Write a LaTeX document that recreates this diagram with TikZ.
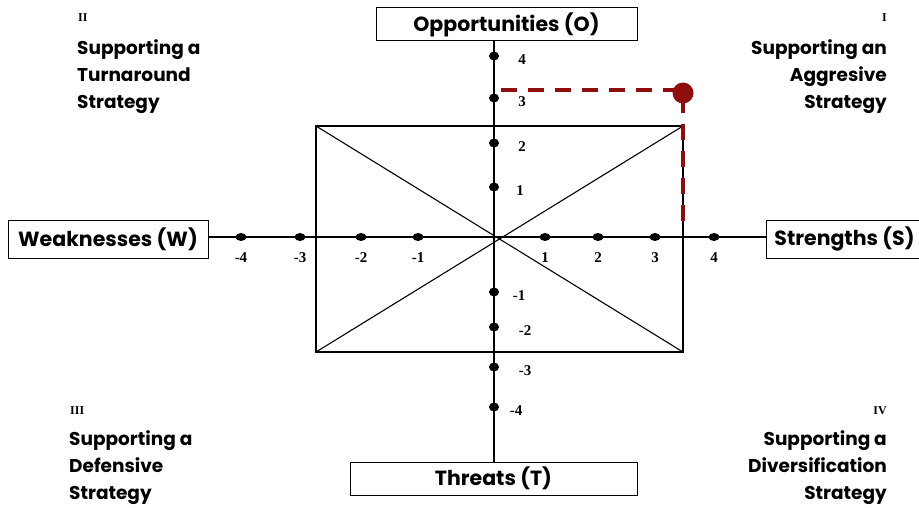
\documentclass[tikz,border=0pt]{standalone}
\usetikzlibrary{shapes.geometric}
\usepackage{fontspec}
\setmainfont{Poppins}
\newfontfamily\tickfont{Liberation Serif}
\definecolor{darkred}{HTML}{8E0D0D}
\begin{document}
\begin{tikzpicture}[x=1pt,y=-1pt,
  axisbox/.style={draw,line width=1pt,inner sep=0pt,font=\fontsize{20.5}{22}\selectfont\bfseries},
  quad/.style={font=\fontsize{18.5}{27}\selectfont\bfseries,inner sep=0pt},
  roman/.style={font=\tickfont\fontsize{12}{12}\selectfont\bfseries,inner sep=0pt},
  tick/.style={font=\tickfont\fontsize{15}{15}\selectfont\bfseries,inner sep=0pt},
  dot/.style={fill,ellipse,minimum width=11pt,minimum height=8pt,inner sep=0pt},
  axis/.style={line width=1.3pt},
  thin/.style={line width=1.1pt}]
\useasboundingbox (0,0) rectangle (919,508);
\fill[white] (0,0) rectangle (919,508);
% boxes
\node[axisbox,minimum width=261pt,minimum height=33pt] (O) at (506.5,24.5) {Opportunities (O)};
\node[axisbox,minimum width=287pt,minimum height=33pt] (T) at (493.5,478.5) {Threats (T)};
\node[axisbox,minimum width=200pt,minimum height=38pt] (W) at (108,239) {Weaknesses (W)};
\node[axisbox,minimum width=156pt,minimum height=38pt,anchor=west] (S) at (766,239) {Strengths (S)};
% centre and axes
\coordinate (C) at (494,237);
\coordinate (Otop) at (494,41);
\coordinate (Tbot) at (494,462);
\coordinate (Wend) at (208,237);
\coordinate (Send) at (766,237);
\draw[axis] (Otop) -- (Tbot);
\draw[axis] (Wend) -- (Send);
% rectangle
\coordinate (R1) at (316,126);
\coordinate (R2) at (683,126);
\coordinate (R3) at (683,352);
\coordinate (R4) at (316,352);
\draw[thin] (R1) rectangle (R3);
\draw[thin] (R1) -- (R3);
\draw[thin] (R2) -- (R4);
% horizontal ticks
\foreach \x/\l in {241/-4,300/-3,361/-2,418/-1,545/1,598/2,655/3,714/4}{
  \node[dot] at (\x,237) {};
  \node[tick] at (\x,258) {\l};
}
% vertical ticks
\foreach \y/\l/\dx in {56/4/28,98/3/28,143/2/28,187/1/26,292/-1/25,327/-2/31,367/-3/31,407/-4/22}{
  \node[dot,minimum width=10pt,minimum height=9pt] at (494,\y) {};
  \node[tick] at (494+\dx,\y+4) {\l};
}
% red dashed path
\coordinate (P) at (683,93);
\coordinate (Pa) at (501,90);
\coordinate (Pc) at (683,90);
\coordinate (Pb) at (683,232);
\draw[darkred,line width=4.5pt,dash pattern=on 16pt off 11pt] (Pa) -- (Pc) -- (Pb);
\node[fill=darkred,circle,minimum size=21pt,inner sep=0pt] (Pt) at (P) {};
% quadrant labels
\node[roman,anchor=west] (q2n) at (78,18) {II};
\node[quad,anchor=north west,align=left] (q2) at (77,39) {Supporting a\\Turnaround\\Strategy};
\node[roman,anchor=east] (q1n) at (887,18) {I};
\node[quad,anchor=north east,align=right] (q1) at (887,39) {Supporting an\\Aggresive\\Strategy};
\node[roman,anchor=west] (q3n) at (70,411) {III};
\node[quad,anchor=north west,align=left] (q3) at (69,430) {Supporting a\\Defensive\\Strategy};
\node[roman,anchor=east] (q4n) at (887,411) {IV};
\node[quad,anchor=north east,align=right] (q4) at (887,430) {Supporting a\\Diversification\\Strategy};
\end{tikzpicture}
\end{document}
